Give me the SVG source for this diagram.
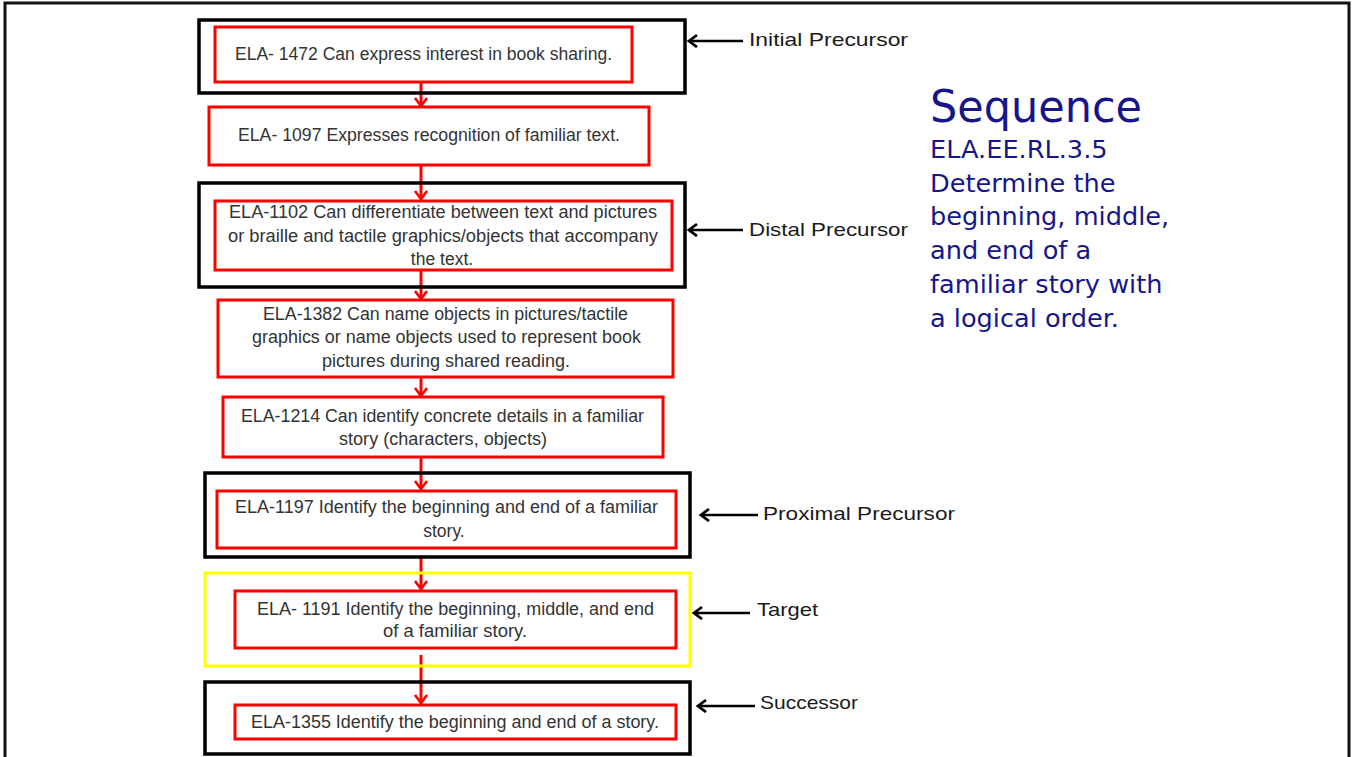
<svg xmlns="http://www.w3.org/2000/svg" width="1352" height="757" viewBox="0 0 1352 757">
<style>
.frame{fill:#fff;stroke:#111;stroke-width:3}
.blk{fill:none;stroke:#000;stroke-width:3.5}
.yel{fill:none;stroke:#ffff00;stroke-width:3}
.red{fill:#fff;stroke:#ff0000;stroke-width:3}
.nt{font-family:"Liberation Sans",Arial,sans-serif;font-size:17.5px;fill:#333;text-anchor:middle}
.lb{font-family:"Liberation Sans",Arial,sans-serif;font-size:19px;fill:#1a1a1a}
.seq{font-family:"DejaVu Sans",Verdana,sans-serif;fill:#16168a}
.rc{stroke:#ff0000;stroke-width:3;fill:none}
.bc{stroke:#000;stroke-width:2.5;fill:none}
</style>
<defs>
<marker id="rh" markerUnits="userSpaceOnUse" markerWidth="16" markerHeight="16" refX="9" refY="7" orient="auto">
<path d="M1,1 L9,7 L1,13" fill="none" stroke="#ff0000" stroke-width="2.6"/>
</marker>
<marker id="bh" markerUnits="userSpaceOnUse" markerWidth="16" markerHeight="16" refX="9" refY="7" orient="auto">
<path d="M1,1 L9,7 L1,13" fill="none" stroke="#000" stroke-width="2.8"/>
</marker>
</defs>
<rect class="frame" x="5" y="3" width="1344" height="800"/>

<g id="connectors">
<line class="rc" x1="421" y1="82" x2="421" y2="106" marker-end="url(#rh)"/>
<line class="rc" x1="421" y1="165" x2="421" y2="199" marker-end="url(#rh)"/>
<line class="rc" x1="421" y1="270" x2="421" y2="299" marker-end="url(#rh)"/>
<line class="rc" x1="421" y1="377" x2="421" y2="396" marker-end="url(#rh)"/>
<line class="rc" x1="421" y1="457" x2="421" y2="489" marker-end="url(#rh)"/>
<line class="rc" x1="421" y1="557" x2="421" y2="589" marker-end="url(#rh)"/>
<line class="rc" x1="421" y1="655" x2="421" y2="703" marker-end="url(#rh)"/>
<line class="bc" x1="743" y1="41" x2="689" y2="41" marker-end="url(#bh)"/>
<line class="bc" x1="743" y1="230" x2="689" y2="230" marker-end="url(#bh)"/>
<line class="bc" x1="758" y1="515" x2="701" y2="515" marker-end="url(#bh)"/>
<line class="bc" x1="750" y1="613" x2="694" y2="613" marker-end="url(#bh)"/>
<line class="bc" x1="755" y1="706" x2="698" y2="706" marker-end="url(#bh)"/>
</g>

<g id="group-initial"><rect class="blk" x="199" y="20" width="486" height="73"/></g>
<g id="node-1472">
<rect class="red" x="215" y="27" width="417" height="55"/>
<text class="nt" x="423.5" y="60" textLength="377" lengthAdjust="spacingAndGlyphs">ELA- 1472 Can express interest in book sharing.</text>
</g>
<g id="node-1097">
<rect class="red" x="209" y="107" width="440" height="58"/>
<text class="nt" x="429" y="141" textLength="382" lengthAdjust="spacingAndGlyphs">ELA- 1097 Expresses recognition of familiar text.</text>
</g>
<g id="group-distal"><rect class="blk" x="199" y="183" width="486" height="104"/></g>
<g id="node-1102">
<rect class="red" x="215" y="201" width="457" height="69"/>
<text class="nt" x="443" y="218" textLength="428" lengthAdjust="spacingAndGlyphs">ELA-1102 Can differentiate between text and pictures</text>
<text class="nt" x="443" y="242" textLength="430" lengthAdjust="spacingAndGlyphs">or braille and tactile graphics/objects that accompany</text>
<text class="nt" x="442" y="265">the text.</text>
</g>
<g id="node-1382">
<rect class="red" x="218" y="300" width="455" height="77"/>
<text class="nt" x="445.5" y="320" textLength="365" lengthAdjust="spacingAndGlyphs">ELA-1382 Can name objects in pictures/tactile</text>
<text class="nt" x="446.5" y="343" textLength="389" lengthAdjust="spacingAndGlyphs">graphics or name objects used to represent book</text>
<text class="nt" x="446" y="367" textLength="248" lengthAdjust="spacingAndGlyphs">pictures during shared reading.</text>
</g>
<g id="node-1214">
<rect class="red" x="223" y="397" width="440" height="60"/>
<text class="nt" x="442.5" y="422" textLength="403" lengthAdjust="spacingAndGlyphs">ELA-1214 Can identify concrete details in a familiar</text>
<text class="nt" x="443" y="445" textLength="208" lengthAdjust="spacingAndGlyphs">story (characters, objects)</text>
</g>
<g id="group-proximal"><rect class="blk" x="205" y="473" width="485" height="84"/></g>
<g id="node-1197">
<rect class="red" x="217" y="491" width="459" height="57"/>
<text class="nt" x="446.5" y="513" textLength="423" lengthAdjust="spacingAndGlyphs">ELA-1197 Identify the beginning and end of a familiar</text>
<text class="nt" x="444" y="537">story.</text>
</g>
<g id="group-target"><rect class="yel" x="205" y="573" width="485" height="93"/></g>
<g id="node-1191">
<rect class="red" x="235" y="591" width="441" height="57"/>
<text class="nt" x="455.5" y="615" textLength="397" lengthAdjust="spacingAndGlyphs">ELA- 1191 Identify the beginning, middle, and end</text>
<text class="nt" x="455" y="637" textLength="144" lengthAdjust="spacingAndGlyphs">of a familiar story.</text>
</g>
<g id="group-successor"><rect class="blk" x="205" y="682" width="485" height="72"/></g>
<g id="node-1355">
<rect class="red" x="235" y="705" width="441" height="34"/>
<text class="nt" x="455" y="728" textLength="408" lengthAdjust="spacingAndGlyphs">ELA-1355 Identify the beginning and end of a story.</text>
</g>

<g id="labels">
<text class="lb" x="749" y="46" textLength="159" lengthAdjust="spacingAndGlyphs">Initial Precursor</text>
<text class="lb" x="749" y="236" textLength="159" lengthAdjust="spacingAndGlyphs">Distal Precursor</text>
<text class="lb" x="763" y="520" textLength="192" lengthAdjust="spacingAndGlyphs">Proximal Precursor</text>
<text class="lb" x="757" y="616" textLength="61" lengthAdjust="spacingAndGlyphs">Target</text>
<text class="lb" x="760" y="709" textLength="98" lengthAdjust="spacingAndGlyphs">Successor</text>
</g>

<g id="title">
<text class="seq" x="930" y="122" font-size="44" textLength="212" lengthAdjust="spacingAndGlyphs">Sequence</text>
<text class="seq" x="930" y="158" font-size="25.6">ELA.EE.RL.3.5</text>
<text class="seq" x="930" y="192" font-size="25.6">Determine the</text>
<text class="seq" x="930" y="225" font-size="25.6">beginning, middle,</text>
<text class="seq" x="930" y="259" font-size="25.6">and end of a</text>
<text class="seq" x="930" y="293" font-size="25.6">familiar story with</text>
<text class="seq" x="930" y="327" font-size="25.6">a logical order.</text>
</g>
</svg>
